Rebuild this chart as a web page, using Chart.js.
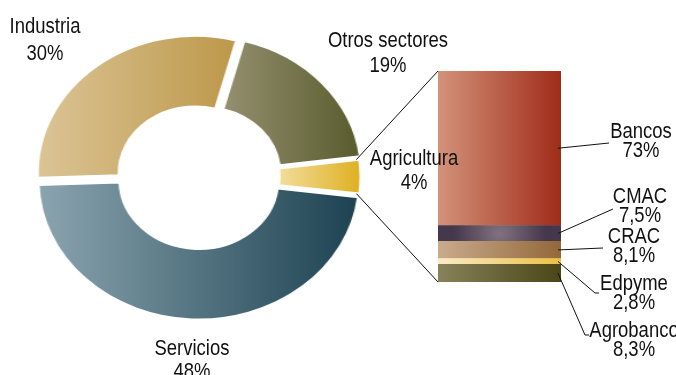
<!DOCTYPE html>
<html>
<head>
<meta charset="utf-8">
<script src="https://cdn.jsdelivr.net/npm/chart.js@4.4.0/dist/chart.umd.min.js"></script>
<style>
  html, body { margin: 0; padding: 0; background: #fff; }
  #wrap { position: relative; width: 676px; height: 375px; overflow: hidden; }
  #donutBox { position: absolute; transform-origin: 50% 50%; }
  #barBox { position: absolute; left: 0; top: 0; width: 676px; height: 375px; }
</style>
</head>
<body>
<div id="wrap">
  <div id="donutBox"><canvas id="donut" width="320" height="320"></canvas></div>
  <div id="barBox"><canvas id="bars" width="676" height="375"></canvas></div>
</div>
<script>
// Datos: créditos por sector
const sectors = ['Otros sectores', 'Agricultura', 'Servicios', 'Industria'];
const sectorShares = [19, 4, 48, 30];

// Datos: desglose de agricultura por entidad (de abajo hacia arriba)
const lenders = ['Agrobanco', 'Edpyme', 'CRAC', 'CMAC', 'Bancos'];
const lenderShares = [8.3, 2.8, 8.1, 7.5, 73];

// Colores (izquierda -> derecha)
const sectorColors = [
  ['#938e6e', '#575a2b'],
  ['#f2dc98', '#deaf1e'],
  ['#8aa4af', '#1e4352'],
  ['#dcc597', '#bd994b']
];
const sectorOffsets = [20, 8, 12, 20];
const lenderColors = [
  ['#878259', '#4a4618'],
  ['#fbebc6', '#ecbf44'],
  ['#c9ab8c', '#93683a'],
  ['#827280', '#45374c'],
  ['#d4927a', '#9f2c19']
];

// Posiciones de las etiquetas [x, línea 1, línea 2]
const sectorLabelPos = [[388, 47, 72], [414, 165, 189], [192, 355, 378], [45, 33, 60]];
const lenderLabelPos = [[634, 337, 356], [634, 290, 309], [634, 243, 262], [640, 203, 222], [641, 138, 157]];
const lenderLeaderEnd = [[585, 335, 589], [595, 293, 599], [603, 248, 603], [613, 209, 613], [609, 143, 609]];

const DONUT_SIZE = 320;
const DONUT_LEFT = 39;
const DONUT_TOP = 17;
const SX = 1.15;

const donutBox = document.getElementById('donutBox');
donutBox.style.left = DONUT_LEFT + 'px';
donutBox.style.top = DONUT_TOP + 'px';
donutBox.style.width = DONUT_SIZE + 'px';
donutBox.style.height = DONUT_SIZE + 'px';
donutBox.style.transform = 'scaleX(' + SX + ')';

const pct = v => String(v).replace('.', ',') + '%';

// desplazamiento del arco (igual que ArcElement.draw)
function arcShift(arc) {
  const off = (arc.options.offset || 0) / 4;
  const circ = arc.endAngle - arc.startAngle;
  const fix = 1 - Math.sin(Math.min(Math.PI, circ));
  const d = off * (1 + fix);
  const mid = (arc.startAngle + arc.endAngle) / 2;
  return [Math.cos(mid) * d, Math.sin(mid) * d];
}

const donutChart = new Chart(document.getElementById('donut'), {
  type: 'doughnut',
  data: {
    labels: sectors,
    datasets: [{
      data: sectorShares,
      backgroundColor: sectorColors.map(c => c[1]),
      borderColor: '#fff',
      borderWidth: 2,
      offset: sectorOffsets
    }]
  },
  options: {
    responsive: false,
    animation: false,
    rotation: 15,
    cutout: '48.5%',
    radius: 137,
    plugins: { legend: { display: false }, tooltip: { enabled: false } }
  }
});

// Gradientes horizontales para cada sector
function applyDonutGradients() {
  const ctx = donutChart.ctx;
  const arcs = donutChart.getDatasetMeta(0).data;
  const fills = arcs.map((arc, i) => {
    const [dx] = arcShift(arc);
    let minX = Infinity, maxX = -Infinity;
    for (let k = 0; k <= 60; k++) {
      const a = arc.startAngle + (arc.endAngle - arc.startAngle) * k / 60;
      [arc.innerRadius, arc.outerRadius].forEach(r => {
        const x = arc.x + dx + Math.cos(a) * r;
        minX = Math.min(minX, x);
        maxX = Math.max(maxX, x);
      });
    }
    const g = ctx.createLinearGradient(minX, 0, maxX, 0);
    g.addColorStop(0, sectorColors[i][0]);
    g.addColorStop(1, sectorColors[i][1]);
    return g;
  });
  donutChart.data.datasets[0].backgroundColor = fills;
  donutChart.update('none');
}
applyDonutGradients();

function toPage(x, y) {
  return [DONUT_LEFT + DONUT_SIZE / 2 + (x - DONUT_SIZE / 2) * SX, DONUT_TOP + y];
}

function lenderFill(context, i) {
  const chart = context.chart;
  const area = chart.chartArea;
  if (!area) return lenderColors[i][1];
  const ctx = chart.ctx;
  if (lenders[i] === 'CMAC') {
    const below = lenderShares.slice(0, i).reduce((a, b) => a + b, 0);
    const yMid = chart.scales.y.getPixelForValue(below + lenderShares[i] / 2);
    const xMid = (area.left + area.right) / 2;
    const g = ctx.createRadialGradient(xMid, yMid, 0, xMid, yMid, (area.right - area.left) / 2);
    g.addColorStop(0, lenderColors[i][0]);
    g.addColorStop(0.75, lenderColors[i][1]);
    g.addColorStop(1, lenderColors[i][1]);
    return g;
  }
  const g = ctx.createLinearGradient(area.left, 0, area.right, 0);
  g.addColorStop(0, lenderColors[i][0]);
  g.addColorStop(1, lenderColors[i][1]);
  return g;
}

// fuente estrecha si está disponible
const probe = document.createElement('canvas').getContext('2d');
probe.font = '22px "Liberation Sans Narrow", monospace';
const wNarrow = probe.measureText('Industria').width;
probe.font = '22px monospace';
const hasNarrow = Math.abs(wNarrow - probe.measureText('Industria').width) > 0.5;
const FONT = hasNarrow ? '22px "Liberation Sans Narrow"' : '22px "Liberation Sans", Arial, sans-serif';
const TEXT_SX = hasNarrow ? 1 : 0.84;

function drawText(ctx, text, x, y) {
  ctx.save();
  ctx.translate(x, y);
  ctx.scale(TEXT_SX, 1);
  ctx.fillText(text, 0, 0);
  ctx.restore();
}

const labelPlugin = {
  id: 'labels',
  afterDraw(chart) {
    const ctx = chart.ctx;
    const area = chart.chartArea;
    const yScale = chart.scales.y;
    ctx.save();
    ctx.strokeStyle = '#111';
    ctx.lineWidth = 1;

    // líneas desde Agricultura hacia la barra
    const agri = donutChart.getDatasetMeta(0).data[sectors.indexOf('Agricultura')];
    const [dx, dy] = arcShift(agri);
    const r = agri.outerRadius;
    const p1 = toPage(agri.x + dx + Math.cos(agri.startAngle) * r, agri.y + dy + Math.sin(agri.startAngle) * r);
    const p2 = toPage(agri.x + dx + Math.cos(agri.endAngle) * r, agri.y + dy + Math.sin(agri.endAngle) * r);
    const total = lenderShares.reduce((a, b) => a + b, 0);
    ctx.beginPath();
    ctx.moveTo(p1[0] - 3, p1[1]);
    ctx.lineTo(area.left, yScale.getPixelForValue(total));
    ctx.moveTo(p2[0] - 3, p2[1]);
    ctx.lineTo(area.left, yScale.getPixelForValue(0));
    ctx.stroke();

    // líneas de las etiquetas de la barra
    let acc = 0;
    lenders.forEach((name, i) => {
      const yMid = yScale.getPixelForValue(acc + lenderShares[i] / 2);
      acc += lenderShares[i];
      const [ex, ey, tx] = lenderLeaderEnd[i];
      ctx.beginPath();
      ctx.moveTo(area.right - 3, yMid);
      ctx.lineTo(ex, ey);
      ctx.lineTo(tx, ey);
      ctx.stroke();
    });

    ctx.fillStyle = '#111';
    ctx.font = FONT;
    ctx.textAlign = 'center';
    ctx.textBaseline = 'alphabetic';
    sectors.forEach((name, i) => {
      const [x, y1, y2] = sectorLabelPos[i];
      drawText(ctx, name, x, y1);
      drawText(ctx, pct(sectorShares[i]), x, y2);
    });
    lenders.forEach((name, i) => {
      const [x, y1, y2] = lenderLabelPos[i];
      drawText(ctx, name, x, y1);
      drawText(ctx, pct(lenderShares[i]), x, y2);
    });
    ctx.restore();
  }
};

const barChart = new Chart(document.getElementById('bars'), {
  type: 'bar',
  data: {
    labels: ['Agricultura'],
    datasets: lenders.map((name, i) => ({
      label: name,
      data: [lenderShares[i]],
      backgroundColor: ctx => lenderFill(ctx, i),
      borderWidth: 0,
      barPercentage: 1,
      categoryPercentage: 1
    }))
  },
  options: {
    responsive: false,
    animation: false,
    layout: { padding: { left: 438, right: 115, top: 71, bottom: 93 } },
    scales: {
      x: { stacked: true, display: false },
      y: { stacked: true, display: false, min: 0, max: lenderShares.reduce((a, b) => a + b, 0) }
    },
    plugins: { legend: { display: false }, tooltip: { enabled: false } }
  },
  plugins: [labelPlugin]
});
</script>
</body>
</html>
